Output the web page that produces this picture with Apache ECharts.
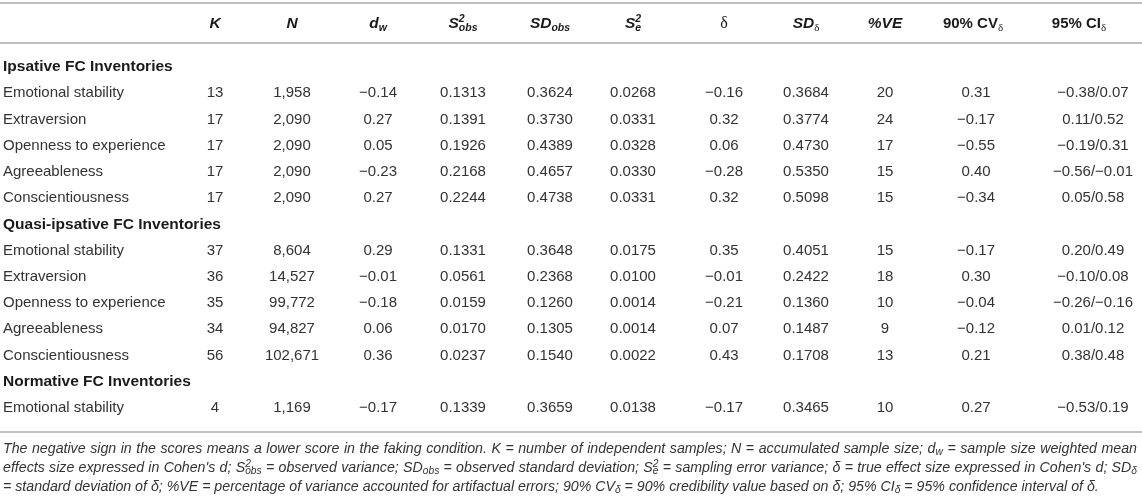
<!DOCTYPE html>
<html><head><meta charset="utf-8">
<script src="https://cdn.jsdelivr.net/npm/echarts@6/dist/echarts.min.js"></script>
<style>html,body{margin:0;padding:0;background:#fff}#c{width:1142px;height:498px}</style>
</head><body><div id="c"></div>
<script>
// ---------------- DATA ----------------
const groupNames = ['Ipsative FC Inventories', 'Quasi-ipsative FC Inventories', 'Normative FC Inventories'];
const traits = ['Emotional stability', 'Extraversion', 'Openness to experience', 'Agreeableness', 'Conscientiousness'];
const groupTraitCounts = [5, 5, 1];

const K       = [13, 17, 17, 17, 17, 37, 36, 35, 34, 56, 4];
const N       = [1958, 2090, 2090, 2090, 2090, 8604, 14527, 99772, 94827, 102671, 1169];
const dw      = [-0.14, 0.27, 0.05, -0.23, 0.27, 0.29, -0.01, -0.18, 0.06, 0.36, -0.17];
const s2obs   = [0.1313, 0.1391, 0.1926, 0.2168, 0.2244, 0.1331, 0.0561, 0.0159, 0.0170, 0.0237, 0.1339];
const sdObs   = [0.3624, 0.3730, 0.4389, 0.4657, 0.4738, 0.3648, 0.2368, 0.1260, 0.1305, 0.1540, 0.3659];
const s2e     = [0.0268, 0.0331, 0.0328, 0.0330, 0.0331, 0.0175, 0.0100, 0.0014, 0.0014, 0.0022, 0.0138];
const delta   = [-0.16, 0.32, 0.06, -0.28, 0.32, 0.35, -0.01, -0.21, 0.07, 0.43, -0.17];
const sdDelta = [0.3684, 0.3774, 0.4730, 0.5350, 0.5098, 0.4051, 0.2422, 0.1360, 0.1487, 0.1708, 0.3465];
const pctVE   = [20, 24, 17, 15, 15, 15, 18, 10, 9, 13, 10];
const cv90    = [0.31, -0.17, -0.55, 0.40, -0.34, -0.17, 0.30, -0.04, -0.12, 0.21, 0.27];
const ciLow   = [-0.38, 0.11, -0.19, -0.56, 0.05, 0.20, -0.10, -0.26, 0.01, 0.38, -0.53];
const ciHigh  = [0.07, 0.52, 0.31, -0.01, 0.58, 0.49, 0.08, -0.16, 0.12, 0.48, 0.19];

const columnHeaders = [
  '{bi|K}', '{bi|N}', '{bi|d}{bsub|w}', '{bi|S}{bsup|2}{bsub|obs}', '{bi|SD}{bsub|obs}',
  '{bi|S}{bsup|2}{bsub|e}', '{dl|δ}', '{bi|SD}{dsub|δ}', '{bi|%VE}', '{b|90% CV}{dsub|δ}', '{b|95% CI}{dsub|δ}'
];

const footnoteLines = [
  'The negative sign in the scores means a lower score in the faking condition. K = number of independent samples; N = accumulated sample size; d{sub|w} = sample size weighted mean',
  "effects size expressed in Cohen's d; S{sup|2}{sub|obs} = observed variance; SD{sub|obs} = observed standard deviation; S{sup|2}{sub|e} = sampling error variance; δ = true effect size expressed in Cohen's d; SD{sub|δ}",
  '= standard deviation of δ; %VE = percentage of variance accounted for artifactual errors; 90% CV{sub|δ} = 90% credibility value based on δ; 95% CI{sub|δ} = 95% confidence interval of δ.'
];

// ---------------- LAYOUT / STYLE ----------------
const W = 1142, H = 498;
const FONT = "'Liberation Sans', Arial, Helvetica, sans-serif";
const SERIF = "'Liberation Serif', 'DejaVu Serif', serif";
const colCenters = [215, 292, 378, 463, 550, 633, 724, 806, 885, 976, 1093];
const headerShift = [0, 0, 0, 0, 0, 0, 0, 0, 0, -3, -14];
const gridTop = 54, gridBottomY = 421;
const headerGap = 43;
const rules = [3, 43, 432];
const ruleColor = '#bfbfbf';
const bodyColor = '#333';
const boldColor = '#1a1a1a';
const BODY_SIZE = 15;
const GROUP_SIZE = 15.5;
const footY = [449, 468, 487];
const footLeft = 3, footRight = 1137, footLine3Width = 1097;

// ---------------- BUILD ----------------
const minus = '\u2212';
const fmt = (v, d) => (v < 0 ? minus : '') + Math.abs(v).toFixed(d);

const rows = [];
let k = 0;
groupNames.forEach((g, gi) => {
  rows.push({ label: g, group: true });
  for (let t = 0; t < groupTraitCounts[gi]; t++) rows.push({ label: traits[t], group: false, idx: k++ });
});

const cellData = [], cellText = [];
rows.forEach((r, ri) => {
  if (r.group) return;
  const i = r.idx;
  const texts = [
    String(K[i]), N[i].toLocaleString('en-US'), fmt(dw[i], 2), fmt(s2obs[i], 4), fmt(sdObs[i], 4),
    fmt(s2e[i], 4), fmt(delta[i], 2), fmt(sdDelta[i], 4), String(pctVE[i]), fmt(cv90[i], 2),
    fmt(ciLow[i], 2) + '/' + fmt(ciHigh[i], 2)
  ];
  texts.forEach((t, j) => { cellData.push([j, ri]); cellText.push(t); });
});

const headerRich = {
  bi:   { fontFamily: FONT, fontSize: 15.5, fontWeight: 'bold', fontStyle: 'italic', fill: boldColor, color: boldColor, align: 'left' },
  b:    { fontFamily: FONT, fontSize: 15, fontWeight: 'bold', fill: boldColor, color: boldColor, align: 'left' },
  bsub: { fontFamily: FONT, fontSize: 10.5, fontWeight: 'bold', fontStyle: 'italic', fill: boldColor, color: boldColor, padding: [9, 0, 0, 0], align: 'left' },
  bsup: { fontFamily: FONT, fontSize: 10.5, fontWeight: 'bold', fontStyle: 'italic', fill: boldColor, color: boldColor, padding: [0, 0, 10, 0], width: 0, align: 'left' },
  dsub: { fontFamily: SERIF, fontSize: 11, fill: boldColor, color: boldColor, padding: [8, 0, 0, 0], align: 'left' },
  dl:   { fontFamily: SERIF, fontSize: 16, fill: boldColor, color: boldColor, align: 'left' }
};

function footRich(F, spWidth) {
  const base = { fontFamily: FONT, fontStyle: 'italic', fill: bodyColor, color: bodyColor, align: 'left' };
  const r = {
    sub: Object.assign({}, base, { fontSize: F * 0.72, padding: [F * 0.42, 0, 0, 0] }),
    sup: Object.assign({}, base, { fontSize: F * 0.72, padding: [0, 0, F * 0.6, 0], width: 0 }),
    t:   Object.assign({}, base, { fontSize: F })
  };
  if (spWidth != null) r.sp = Object.assign({}, base, { fontSize: F, width: spWidth });
  return r;
}
function toTokens(src, justify) {
  const parts = src.split(/(\{[a-z]+\|[^}]*\})/);
  let out = '';
  parts.forEach(p => {
    if (!p) return;
    if (p.charAt(0) === '{') { out += p; return; }
    if (justify) {
      const words = p.split(' ');
      words.forEach((w, wi) => {
        if (wi > 0) out += '{sp| }';
        if (w) out += '{t|' + w + '}';
      });
    } else out += '{t|' + p + '}';
  });
  return out;
}
function measure(text, rich) {
  const el = new echarts.graphic.Text({ style: { text, rich, fontFamily: FONT, fontSize: 13, fontStyle: 'italic' } });
  return el.getBoundingRect().width;
}
const F0 = 13;
const w3 = measure(toTokens(footnoteLines[2], false), footRich(F0));
const FF = F0 * footLine3Width / w3;

const footGraphics = footnoteLines.map((line, li) => {
  let text, rich;
  if (li < 2) {
    text = toTokens(line, true);
    const nSp = (text.match(/\{sp\|/g) || []).length;
    const w0 = measure(text, footRich(FF, 0));
    rich = footRich(FF, ((footRight - footLeft) - w0) / nSp);
  } else {
    text = toTokens(line, false);
    rich = footRich(FF);
  }
  return {
    type: 'text', x: footLeft, y: footY[li], silent: true,
    style: { text, rich, fontFamily: FONT, fontSize: FF, fontStyle: 'italic', fill: bodyColor, align: 'left', verticalAlign: 'middle' }
  };
});

const ruleGraphics = rules.map(y => ({
  type: 'line', silent: true, shape: { x1: 0, y1: y, x2: W, y2: y },
  style: { stroke: ruleColor, lineWidth: 2 }
}));

const chart = echarts.init(document.getElementById('c'), null, { renderer: 'canvas' });
chart.setOption({
  animation: false,
  backgroundColor: '#fff',
  textStyle: { fontFamily: FONT },
  grid: { left: 0, right: 0, top: gridTop, bottom: H - gridBottomY, containLabel: false },
  xAxis: { type: 'value', min: 0, max: W, show: false },
  yAxis: {
    type: 'category', inverse: true,
    data: rows.map((r, i) => String(i)),
    axisLine: { show: false }, axisTick: { show: false }, splitLine: { show: false },
    axisLabel: {
      inside: true, margin: 3, interval: 0,
      fontFamily: FONT, fontSize: BODY_SIZE, color: bodyColor,
      formatter: (v, i) => rows[i].group ? '{g|' + rows[i].label + '}' : rows[i].label,
      rich: { g: { fontFamily: FONT, fontSize: GROUP_SIZE, fontWeight: 'bold', color: boldColor } }
    }
  },
  series: [
    {
      type: 'custom', coordinateSystem: 'cartesian2d', silent: true, clip: false,
      data: cellData,
      renderItem(params, api) {
        const j = api.value(0), r = api.value(1);
        const p = api.coord([colCenters[j], r]);
        return {
          type: 'text', x: p[0], y: p[1],
          style: { text: cellText[params.dataIndex], fontFamily: FONT, fontSize: BODY_SIZE, fill: bodyColor, align: 'center', verticalAlign: 'middle' }
        };
      }
    },
    {
      type: 'custom', coordinateSystem: 'cartesian2d', silent: true, clip: false,
      data: columnHeaders.map((h, j) => [j, 0]),
      renderItem(params, api) {
        const j = api.value(0);
        const p = api.coord([colCenters[j] + headerShift[j], 0]);
        return {
          type: 'text', x: p[0], y: p[1] - headerGap,
          style: { text: columnHeaders[params.dataIndex], rich: headerRich, fontFamily: FONT, fontSize: 15, fill: boldColor, align: 'center', verticalAlign: 'middle' }
        };
      }
    }
  ],
  graphic: ruleGraphics.concat(footGraphics)
});
</script>
</body></html>
